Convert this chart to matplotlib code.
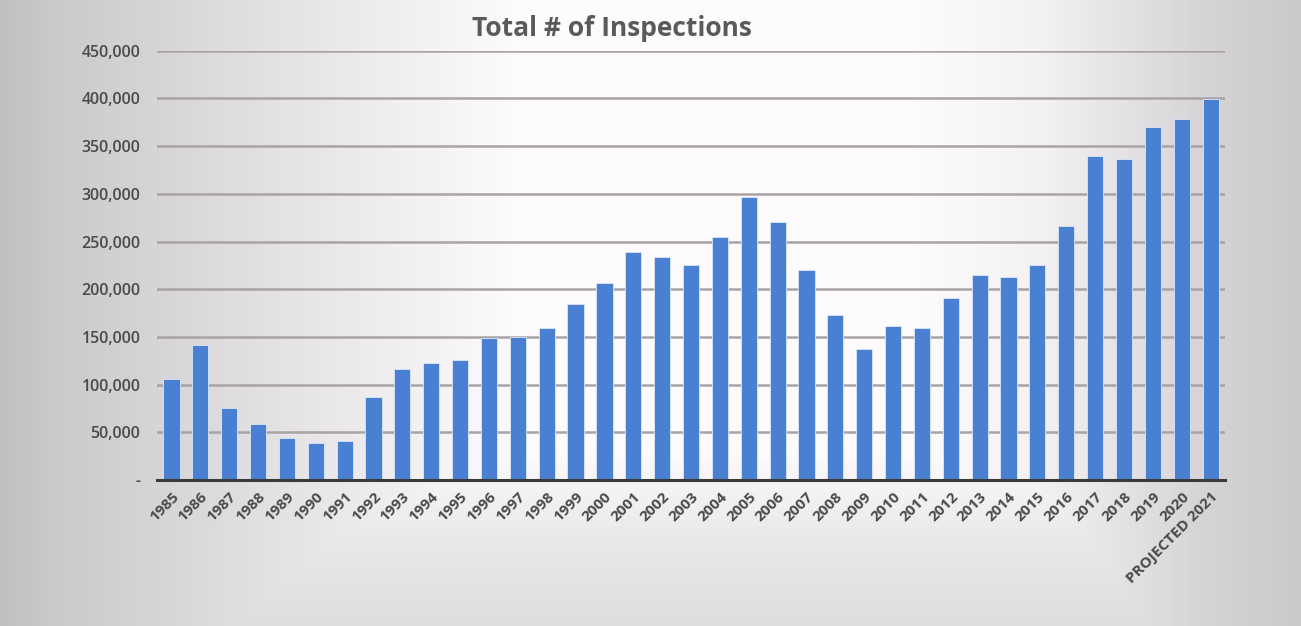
import numpy as np
import matplotlib
matplotlib.use("Agg")
import matplotlib.pyplot as plt
from matplotlib.ticker import FuncFormatter

categories = ["1985", "1986", "1987", "1988", "1989", "1990", "1991", "1992", "1993", "1994",
              "1995", "1996", "1997", "1998", "1999", "2000", "2001", "2002", "2003", "2004",
              "2005", "2006", "2007", "2008", "2009", "2010", "2011", "2012", "2013", "2014",
              "2015", "2016", "2017", "2018", "2019", "2020", "PROJECTED 2021"]
inspections = [106000, 141000, 75000, 59000, 44000, 38500, 40500, 87000, 116000, 123000,
               126000, 149000, 150000, 159000, 185000, 206000, 239000, 234000, 225000, 255000,
               297000, 270000, 220000, 173000, 137000, 161000, 159000, 191000, 215000, 213000,
               225000, 266000, 340000, 336000, 370000, 378000, 399000]
yticks = [0, 50000, 100000, 150000, 200000, 250000, 300000, 350000, 400000, 450000]
title = "Total # of Inspections"

plt.rcParams['font.family'] = ['Open Sans', 'DejaVu Sans']

fig = plt.figure(figsize=(13.01, 6.26), dpi=100)

# scanned-paper gradient background
bg = fig.add_axes([0, 0, 1, 1], zorder=-10)
W, H = 400, 200
xs = np.linspace(0, 1, W)
ys = np.linspace(0, 1, H)
X, Y = np.meshgrid(xs, ys)
hx = np.interp(X, [0, 0.04, 0.25, 0.4, 0.7, 0.8, 0.93, 1.0],
               [0.76, 0.80, 0.92, 1.0, 1.0, 0.96, 0.84, 0.80])
bottom = np.interp(Y, [0, 0.72, 0.85, 1.0], [1.0, 1.0, 0.93, 0.88])
lum = np.minimum(hx, bottom)
img = np.dstack([lum * 0.995, lum * 0.985, lum * 0.995])
bg.imshow(np.clip(img, 0, 1), aspect='auto', extent=[0, 1, 0, 1], origin='upper')
bg.set_axis_off()

ax = fig.add_axes([0.1207, 0.2332, 0.8209, 0.6858])
ax.patch.set_alpha(0)
x = np.arange(len(categories))
ax.bar(x, inspections, width=0.56, color='#4a80d2', edgecolor='#dce8f8', linewidth=0.6, zorder=3)

ax.set_xlim(-0.5, len(categories) - 0.5)
ax.set_ylim(0, 450000)
ax.set_yticks(yticks)
ax.yaxis.set_major_formatter(FuncFormatter(lambda v, p: "-" if v == 0 else f"{int(v):,}"))
ax.grid(axis='y', color='#a8a4a6', linewidth=1.8, zorder=0)
for s in ['left', 'right', 'top']:
    ax.spines[s].set_visible(False)
ax.spines['bottom'].set_color('#3a3a3a')
ax.spines['bottom'].set_linewidth(2.2)
ax.spines['bottom'].set_zorder(4)
ax.tick_params(axis='both', length=0, colors='#404040', labelsize=11.5)
ax.tick_params(axis='y', pad=12)
ax.tick_params(axis='x', pad=7)
ax.set_xticks(x)
ax.set_xticklabels(categories, rotation=45, ha='right', rotation_mode='anchor',
                   fontweight='bold', color='#4a4a4a', fontsize=11)
for lbl in ax.get_yticklabels():
    lbl.set_fontweight('semibold')
    lbl.set_color('#4a4a4a')

fig.text(0.47, 0.955, title, ha='center', va='center', fontsize=19,
         fontweight='bold', color='#5a5a5a')

fig.savefig("out.png", dpi=100)
